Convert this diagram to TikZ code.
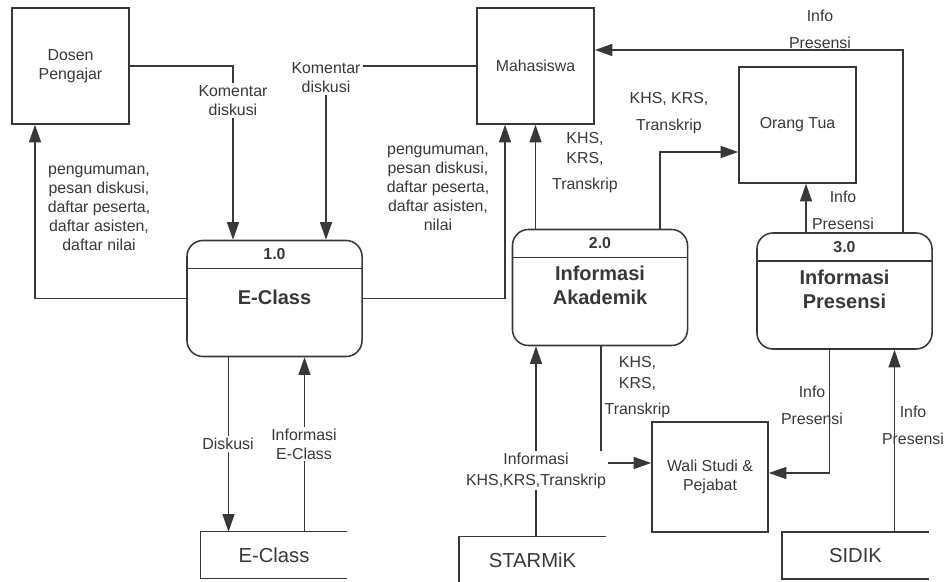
\documentclass[tikz,border=0pt]{standalone}
\usepackage{fontspec}
\setmainfont{Liberation Sans}
\usetikzlibrary{arrows.meta,calc}
\definecolor{ink}{HTML}{383838}

\begin{document}
\begin{tikzpicture}[x=0.025cm, y=-0.025cm, color=ink,
  txt/.style={font=\fontsize{11.3}{13.5}\selectfont, align=center},
  lbl/.style={txt, inner sep=1.5pt},
  cover/.style={lbl, fill=white},
  entity/.style={txt, draw, line width=1.1pt, minimum width=2.925cm, minimum height=2.9cm},
  proc/.style={draw, line width=1.1pt, rounded corners=0.4cm, minimum width=4.375cm, minimum height=2.9cm},
  procnum/.style={font=\fontsize{11.3}{13.5}\selectfont\bfseries},
  proctitle/.style={font=\fontsize{14.2}{17}\selectfont\bfseries, align=center, anchor=center},
  store/.style={minimum width=3.65cm, minimum height=1.15cm, font=\fontsize{14.4}{17}\selectfont},
  boxline/.style={line width=1.1pt},
  flow/.style={line width=1pt, -{Triangle[length=12.5pt,width=8.5pt]}}]
\useasboundingbox (0,0) rectangle (947,582);

% external entities
\node[entity] (dosen) at (70.5,66) {Dosen\\Pengajar};
\node[entity] (mhs) at (535.5,66) {Mahasiswa};
\node[entity] (ortu) at (797.5,125) {Orang Tua};
\node[entity, minimum width=2.9cm, minimum height=2.75cm] (wali) at (710,477) {Wali Studi \&\\Pejabat};

% processes
\node[proc] (eclass) at (274.5,298.5) {};
\node[proc] (akad) at (600,287.5) {};
\node[proc] (pres) at (844.5,291) {};
\foreach \p/\n in {eclass/1.0, akad/2.0, pres/3.0} {
  \draw[boxline] ($(\p.north west)+(0,29)$) -- ($(\p.north east)+(0,29)$);
  \node[procnum] (\p-n) at ($(\p.north)+(0,14.5)$) {\n};
}
\node[proctitle] (eclass-t) at ($(eclass.north)+(0,58)$) {E-Class};
\node[proctitle] (akad-t) at ($(akad.north)+(0,57)$) {Informasi\\Akademik};
\node[proctitle] (pres-t) at ($(pres.north)+(0,57)$) {Informasi\\Presensi};

% data stores
\node[store] (estore) at (274,555) {E-Class};
\node[store] (starmik) at (532.5,560) {STARMiK};
\node[store] (sidik) at (855.5,555.5) {SIDIK};
\foreach \s in {estore, starmik, sidik}
  \draw[boxline] (\s.north east) -- (\s.north west) -- (\s.south west) -- (\s.south east);

% flows
\draw[flow] (dosen.east) -| ($(eclass.north)+(-41.5,0)$);
\draw[flow] (mhs.west) -| ($(eclass.north)+(51.5,0)$);
\draw[flow] (eclass.west) -| ($(dosen.south)+(-35.5,0)$);
\draw[flow] (eclass.east) -| ($(mhs.south)+(-30.5,0)$);
\draw[flow] (akad.north -| mhs.south) -- (mhs.south);
\draw[flow] ($(akad.north)+(60,0)$) |- ($(ortu.west)+(0,27)$);
\coordinate (pres-a) at ($(pres.north)+(-38.5,0)$);
\draw[flow] (pres-a) -- (pres-a |- ortu.south);
\draw[flow] ($(pres.north)+(58.5,0)$) |- ($(mhs.east)+(0,-16)$);
\coordinate (akad-a) at ($(akad.south)+(-64,0)$);
\draw[flow] (akad-a |- starmik.north) -- (akad-a);
\draw[flow] ($(akad.south)+(1,0)$) |- ($(wali.west)+(0,-14)$);
\draw[flow] ($(pres.south)+(-15,0)$) |- ($(wali.east)+(0,-4)$);
\coordinate (pres-d) at ($(pres.south)+(50,0)$);
\draw[flow] (pres-d |- sidik.north) -- (pres-d);
\coordinate (ec-a) at ($(eclass.south)+(-46,0)$);
\draw[flow] (ec-a) -- (ec-a |- estore.north);
\coordinate (ec-b) at ($(eclass.south)+(30,0)$);
\draw[flow] (ec-b |- estore.north) -- (ec-b);

% flow labels
\node[cover] (l-kom1) at (233,100.5) {Komentar\\diskusi};
\node[cover] (l-kom2) at (326,77.5) {Komentar\\diskusi};
\node[lbl] (l-dsn) at (99,208) {pengumuman,\\pesan diskusi,\\daftar peserta,\\daftar asisten,\\daftar nilai};
\node[lbl] (l-mhs) at (438,188) {pengumuman,\\pesan diskusi,\\daftar peserta,\\daftar asisten,\\nilai};
\node[lbl] (l-akm) at (585,163) {KHS,\\[0.7pt]KRS,\\[5pt]Transkrip};
\node[lbl] (l-akt) at (669,113.5) {KHS, KRS,\\[5.6pt]Transkrip};
\node[lbl] (l-prt) at (843,210) {Info\\[5.6pt]Presensi};
\node[lbl] (l-prm) at (820,29.5) {Info\\[5.6pt]Presensi};
\node[cover] (l-star) at (536,470.5) {Informasi\\[1.4pt]KHS,KRS,Transkrip};
\node[lbl] (l-akw) at (637.5,387.5) {KHS,\\[1.4pt]KRS,\\[5pt]Transkrip};
\node[lbl] (l-prw) at (812,405) {Info\\[5.6pt]Presensi};
\node[lbl] (l-sid) at (913,425.5) {Info\\[5.6pt]Presensi};
\node[cover] (l-dis) at (228,444) {Diskusi};
\node[cover] (l-inf) at (304,444) {Informasi\\E-Class};
\end{tikzpicture}
\end{document}
